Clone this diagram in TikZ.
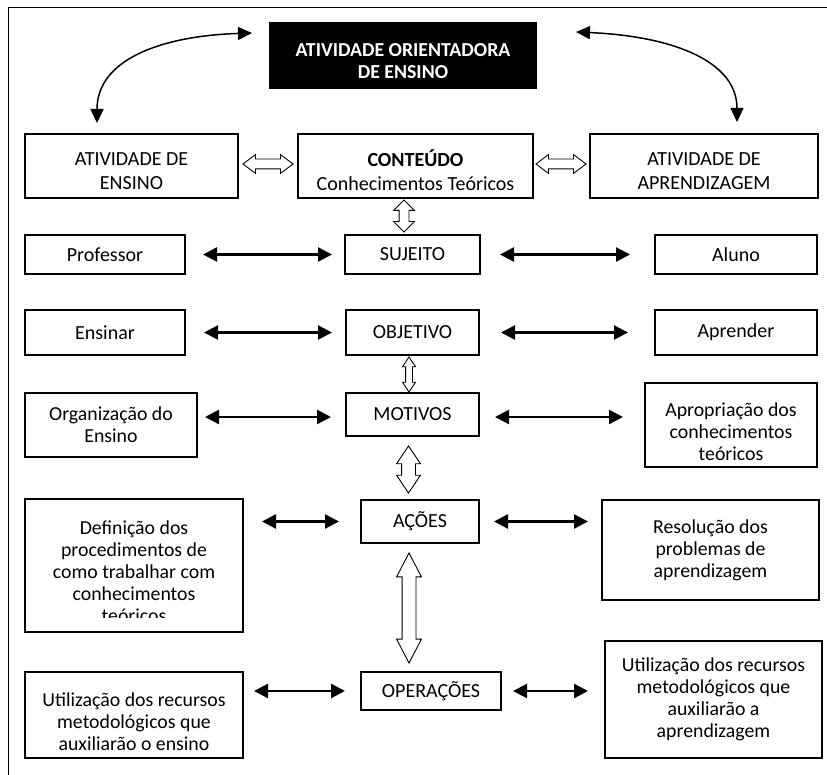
\documentclass[tikz,border=0pt]{standalone}
\usepackage{fontspec}
\setmainfont{Carlito}
\usetikzlibrary{arrows.meta,shapes.arrows}

\begin{document}
\begin{tikzpicture}[x=1pt, y=-1pt,
    box/.style={draw, line width=1.2pt, inner sep=0pt, outer sep=0pt, align=center, font=\fontsize{20}{24}\selectfont},
    small/.style={font=\fontsize{19.8}{22}\selectfont},
    dbl/.style={{Triangle[length=14pt,width=14pt]}-{Triangle[length=14pt,width=14pt]}, line width=2.4pt},
    curva/.style={{Triangle[length=14pt,width=13pt]}-{Triangle[length=14pt,width=13pt]}, line width=1.5pt},
    seta/.style={double arrow, draw, fill=white, line width=0.9pt, inner xsep=0pt, double arrow head indent=0pt}]
        \useasboundingbox (0,0) rectangle (827,775);
        \draw [line width=1.2pt] (8.5,790) -- (8.5,7.5) -- (840,7.5);

        \node (aoe) at (403, 55.5) [box, fill=black, text=white, font=\fontsize{19.8}{22}\selectfont\bfseries, minimum width=266pt, minimum height=65pt] {\rule{0pt}{24pt}ATIVIDADE ORIENTADORA\\DE ENSINO};

        \node (ens) at (131.5, 166) [box, minimum width=213pt, minimum height=64pt] {\rule{0pt}{23pt}ATIVIDADE DE\\ENSINO};
        \node (cont) at (415.5, 166) [box, minimum width=235pt, minimum height=64pt] {\rule{0pt}{25pt}\textbf{CONTEÚDO}\\Conhecimentos Teóricos};
        \node (apr) at (704, 166) [box, minimum width=228pt, minimum height=64pt] {\rule{0pt}{23pt}ATIVIDADE DE\\APRENDIZAGEM};

        \node (prof) at (105, 254.5) [box, minimum width=160pt, minimum height=39pt] {Professor};
        \node (suj) at (412.5, 254.5) [box, minimum width=135pt, minimum height=39pt] {SUJEITO};
        \node (alu) at (736, 254.5) [box, minimum width=162pt, minimum height=39pt] {Aluno};

        \node (ensi) at (105, 332.5) [box, minimum width=160pt, minimum height=45pt] {Ensinar};
        \node (obj) at (412.5, 332.5) [box, minimum width=133pt, minimum height=45pt] {OBJETIVO};
        \node (apre) at (736, 332.5) [box, minimum width=162pt, minimum height=45pt] {Aprender};

        \node (org) at (111, 425) [box, small, minimum width=172pt, minimum height=64pt] {Organização do\\Ensino};
        \node (mot) at (412.5, 414.5) [box, minimum width=133pt, minimum height=43pt] {MOTIVOS};
        \node (apro) at (731, 425) [box, small, minimum width=172pt, minimum height=84pt] {\rule{0pt}{27pt}Apropriação dos\\conhecimentos\\teóricos};

        \node (def) at (134, 565.5) [box, minimum width=218pt, minimum height=133pt] {};
        \begin{scope}
            \clip (26,500) rectangle (242,617);
            \node (deft) at (134, 572) [small, align=center] {Definição dos\\procedimentos de\\como trabalhar com\\conhecimentos\\teóricos};
        \end{scope}
        \node (aco) at (420, 521.5) [box, minimum width=118pt, minimum height=43pt] {AÇÕES};
        \node (res) at (710.5, 550) [box, small, minimum width=217pt, minimum height=100pt] {Resolução dos\\problemas de\\aprendizagem};

        \node (uens) at (134, 715) [box, small, minimum width=218pt, minimum height=86pt] {\rule{0pt}{27pt}Utilização dos recursos\\metodológicos que\\auxiliarão o ensino};
        \node (ope) at (431, 691) [box, minimum width=140pt, minimum height=38pt] {OPERAÇÕES};
        \node (uapr) at (713.5, 699.5) [box, small, minimum width=217pt, minimum height=117pt] {Utilização dos recursos\\metodológicos que\\auxiliarão a\\aprendizagem};

        % setas abertas
        \node (s1) at (268, 164) [seta, minimum height=50pt, inner ysep=4.5pt, double arrow head extend=4.5pt, double arrow tip angle=74] {};
        \node (s2) at (561, 164) [seta, minimum height=50pt, inner ysep=4.5pt, double arrow head extend=4.5pt, double arrow tip angle=74] {};
        \node (s3) at (404, 216) [seta, rotate=90, minimum height=32pt, inner ysep=4.5pt, double arrow head extend=5.5pt, double arrow tip angle=90] {};
        \node (s4) at (409, 374.5) [seta, rotate=90, minimum height=35pt, inner ysep=3pt, double arrow head extend=3pt, double arrow tip angle=67] {};
        \node (s5) at (408.5, 469.5) [seta, rotate=90, minimum height=47pt, inner ysep=6.5pt, double arrow head extend=5pt, double arrow tip angle=68] {};
        \node (s6) at (409, 608) [seta, rotate=90, minimum height=110pt, inner ysep=6.5pt, double arrow head extend=5.5pt, double arrow tip angle=55] {};

        % setas curvas
        \coordinate (c1) at (97, 123);
        \coordinate (c2) at (252, 33);
        \coordinate (c3) at (576, 32);
        \coordinate (c4) at (737, 122);
        \draw [curva] (c1) .. controls (97, 60) and (160, 36) .. (c2);
        \draw [curva] (c3) .. controls (670, 36) and (737, 60) .. (c4);

        \draw [dbl, shorten <=18pt, shorten >=13pt] (prof.east |- suj) -- (suj.west);
        \draw [dbl, shorten <=20pt, shorten >=25pt] (suj.east) -- (alu.west |- suj);
        \draw [dbl, shorten <=19pt, shorten >=14pt] (ensi.east |- obj) -- (obj.west);
        \draw [dbl, shorten <=22pt, shorten >=27pt] (obj.east) -- (apre.west |- obj);
        \draw [dbl, shorten <=8pt, shorten >=15pt] (org.east |- 0,417) -- (mot.west |- 0,417);
        \draw [dbl, shorten <=16pt, shorten >=22pt] (mot.east |- 0,417) -- (apro.west |- 0,417);
        \draw [dbl, shorten <=19pt, shorten >=22pt] (def.east |- aco) -- (aco.west);
        \draw [dbl, shorten <=15pt, shorten >=14pt] (aco.east) -- (res.west |- aco);
        \draw [dbl, shorten <=11pt, shorten >=16pt] (uens.east |- ope) -- (ope.west);
        \draw [dbl, shorten <=12pt, shorten >=17pt] (ope.east) -- (uapr.west |- ope);
    \end{tikzpicture}
\end{document}
